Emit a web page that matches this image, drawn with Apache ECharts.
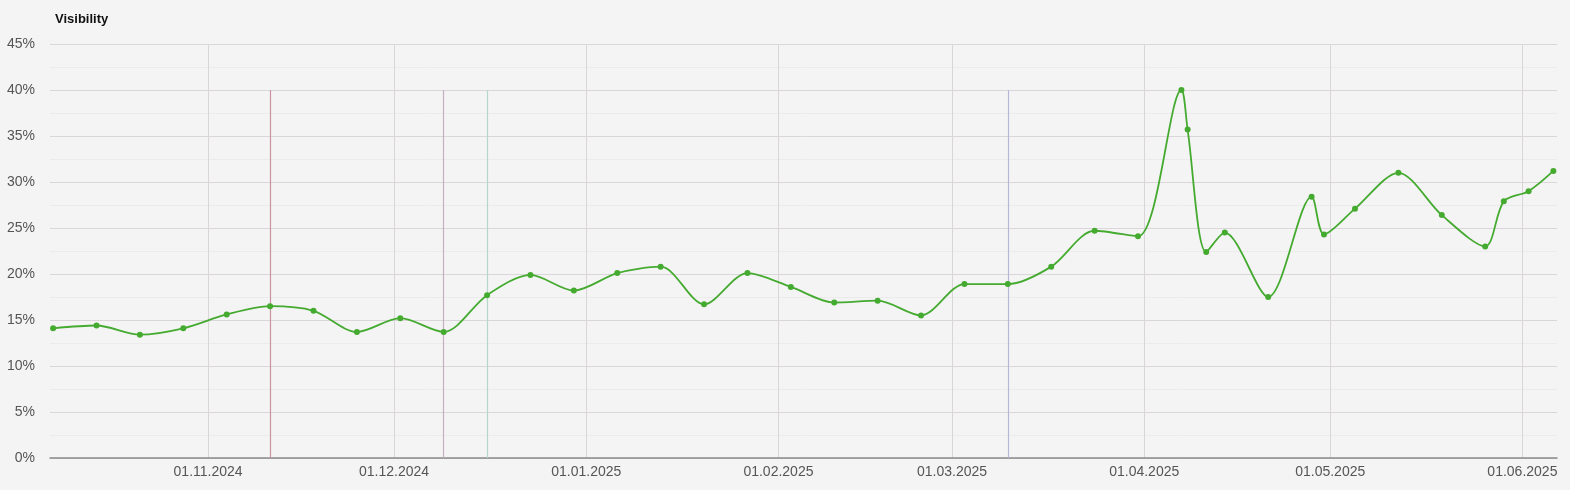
<!DOCTYPE html>
<html>
<head>
<meta charset="utf-8">
<script src="https://cdn.jsdelivr.net/npm/echarts@6/dist/echarts.min.js"></script>
<style>
  html, body { margin: 0; padding: 0; background: #f5f4f5; }
  #chart { width: 1570px; height: 490px; }
</style>
</head>
<body>
<div id="chart"></div>
<script>
// weekly visibility values (%)
const dates = [
  '2024-10-07', '2024-10-14', '2024-10-21', '2024-10-28', '2024-11-04', '2024-11-11',
  '2024-11-18', '2024-11-25', '2024-12-02', '2024-12-09', '2024-12-16', '2024-12-23',
  '2024-12-30', '2025-01-06', '2025-01-13', '2025-01-20', '2025-01-27', '2025-02-03',
  '2025-02-10', '2025-02-17', '2025-02-24', '2025-03-03', '2025-03-10', '2025-03-17',
  '2025-03-24', '2025-03-31', '2025-04-07', '2025-04-08', '2025-04-11', '2025-04-14',
  '2025-04-21', '2025-04-28', '2025-04-30', '2025-05-05', '2025-05-12', '2025-05-19',
  '2025-05-26', '2025-05-29', '2025-06-02', '2025-06-06'
]
const visibility = [
  14.1, 14.4, 13.4, 14.1, 15.6, 16.5,
  16.0, 13.7, 15.2, 13.7, 17.7, 19.9,
  18.2, 20.1, 20.8, 16.7, 20.1, 18.6,
  16.9, 17.1, 15.5, 18.9, 18.9, 20.8,
  24.7, 24.1, 40.0, 35.7, 22.4, 24.5,
  17.5, 28.4, 24.3, 27.1, 31.0, 26.4,
  23.0, 27.9, 29.0, 31.2
]
// month labels on the x axis
const monthTicks = ['2024-11-01', '2024-12-01', '2025-01-01', '2025-02-01', '2025-03-01', '2025-04-01', '2025-05-01', '2025-06-01']
// event markers (vertical lines up to 40%)
const markerDates = ['2024-11-11', '2024-12-09', '2024-12-16', '2025-03-10']
const markerColors = ['#c9949f', '#c4b0c0', '#b5d6ca', '#b6b6d8']

const ts = s => new Date(s + 'T00:00:00').getTime()
const pad = n => (n < 10 ? '0' : '') + n

const chart = echarts.init(document.getElementById('chart'))
chart.setOption({
  backgroundColor: '#f5f4f5',
  animation: false,
  title: {
    text: 'Visibility',
    left: 50,
    top: 8,
    textStyle: { fontFamily: 'Arial, Liberation Sans', fontSize: 13, fontWeight: 'bold', color: '#111' }
  },
  grid: { left: 50, right: 13, top: 44, bottom: 32 },
  xAxis: {
    type: 'value',
    min: new Date('2024-10-06T12:00:00').getTime(),
    max: new Date('2025-06-06T14:00:00').getTime(),
    axisLine: { lineStyle: { color: '#8a8a8a', width: 1.5 } },
    axisTick: { show: false, customValues: monthTicks.map(ts) },
    axisLabel: {
      customValues: monthTicks.map(ts),
      color: '#555',
      fontFamily: 'Arial, Liberation Sans',
      fontSize: 14,
      margin: 7,
      formatter: v => {
        const d = new Date(v)
        return pad(d.getDate()) + '.' + pad(d.getMonth() + 1) + '.' + d.getFullYear()
      }
    },
    splitLine: { show: true, lineStyle: { color: '#d9d5d9', width: 1 } }
  },
  yAxis: {
    type: 'value',
    min: 0,
    max: 45,
    interval: 5,
    axisLine: { show: false },
    axisTick: { show: false },
    axisLabel: {
      formatter: '{value}%',
      color: '#555',
      fontFamily: 'Arial, Liberation Sans',
      fontSize: 14,
      margin: 15
    },
    splitLine: { lineStyle: { color: '#dad6da', width: 1 } },
    minorTick: { show: false, splitNumber: 2 },
    minorSplitLine: { show: true, lineStyle: { color: '#ecebec', width: 1 } }
  },
  series: [
    {
      name: 'Visibility',
      type: 'line',
      data: dates.map((d, i) => [ts(d), visibility[i]]),
      smooth: 0.3,
      symbol: 'circle',
      symbolSize: 6,
      itemStyle: { color: '#45ab30' },
      lineStyle: { color: '#45ab30', width: 1.8 },
      markLine: {
        silent: true,
        symbol: 'none',
        label: { show: false },
        data: markerDates.map((d, i) => [
          { coord: [ts(d), 0], lineStyle: { color: markerColors[i], width: 1.2, type: 'solid' } },
          { coord: [ts(d), 40] }
        ])
      },
      z: 5
    }
  ]
})
</script>
</body>
</html>
